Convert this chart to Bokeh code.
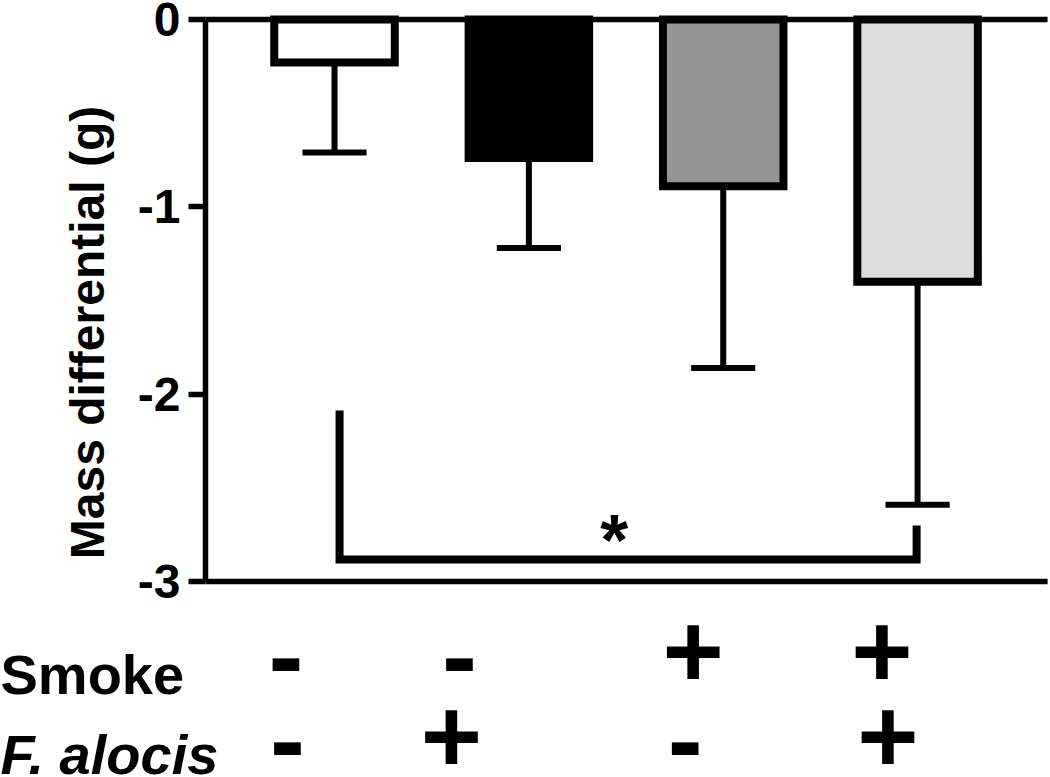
import math
from bokeh.plotting import figure
from bokeh.models import Range1d, FixedTicker, LinearAxis, ColumnDataSource, Grid
from bokeh.core.properties import value
from bokeh.embed import file_html
from bokeh.resources import INLINE

# ---- data ----
groups = [1, 2, 3, 4]
means = [-0.23, -0.74, -0.89, -1.40]
errors = [0.48, 0.48, 0.97, 1.19]
fills = ["#ffffff", "#000000", "#949494", "#dcdcdc"]
smoke = ["-", "-", "+", "+"]
falocis = ["-", "+", "-", "+"]
y_ticks = [-3, -2, -1, 0]
y_label = "Mass differential (g)"
row_labels = ["Smoke", "F. alocis"]
sig_text = "*"
sig_pair = [1, 4]

# ---- layout constants ----
X0, X1 = -0.7187, 4.684
Y0, Y1 = -4.0463, 0.1014
SPINE_X = 0.3362
LINE_END = 4.669
BAR_W = 0.62
CAP_W = 0.33
smoke_off = [-0.25, -0.357, -0.155, -0.183]
falo_off = [-0.242, -0.398, -0.196, -0.152]
ROW1_Y, ROW2_Y = -3.3684, -3.8195
MINUS_DY = -0.025
FONT = value("Liberation Sans")

p = figure(width=1050, height=777, x_range=Range1d(X0, X1), y_range=Range1d(Y0, Y1),
           output_backend="svg", toolbar_location=None, x_axis_location=None,
           y_axis_location=None,
           min_border_left=0, min_border_right=0, min_border_top=0, min_border_bottom=0)
p.outline_line_color = None
for g in list(p.center):
    if isinstance(g, Grid):
        g.visible = False
p.background_fill_color = "white"

ax = LinearAxis(fixed_location=SPINE_X)
ax.bounds = (min(y_ticks), max(y_ticks))
ax.ticker = FixedTicker(ticks=y_ticks)
ax.major_label_overrides = {t: str(t) for t in y_ticks}
ax.axis_line_width = 5.5
ax.major_tick_line_width = 5.5
ax.major_tick_out = 17
ax.major_tick_in = 0
ax.minor_tick_out = 0
ax.minor_tick_in = 0
ax.major_label_text_font = "Liberation Sans"
ax.major_label_text_font_style = "bold"
ax.major_label_text_font_size = "48px"
ax.major_label_text_color = "black"
ax.major_label_standoff = 8
ax.axis_line_color = "black"
ax.major_tick_line_color = "black"
p.add_layout(ax, "left")

# horizontal lines at 0 and -3
p.segment(x0=[SPINE_X, SPINE_X], y0=[max(y_ticks), min(y_ticks)], x1=[LINE_END, LINE_END],
          y1=[max(y_ticks), min(y_ticks)], line_color="black", line_width=5.5)

# error bars (downward only)
lows = [m - e for m, e in zip(means, errors)]
p.segment(x0=groups, y0=means, x1=groups, y1=lows, line_color="black", line_width=6)
p.segment(x0=[g - CAP_W / 2 for g in groups], y0=lows, x1=[g + CAP_W / 2 for g in groups],
          y1=lows, line_color="black", line_width=6)

# bars
src = ColumnDataSource(dict(x=groups, top=[0] * 4, bottom=means, fill=fills))
p.vbar(x="x", top="top", bottom="bottom", width=BAR_W, fill_color="fill",
       line_color="black", line_width=8, line_join="miter", source=src)

# significance bracket
bx0, bx1 = sig_pair[0] + 0.026, sig_pair[1] - 0.005
p.line(x=[bx0, bx0, bx1, bx1], y=[-2.087, -2.883, -2.883, -2.701], line_color="black",
       line_width=8, line_join="miter", line_cap="butt")
p.text(x=[2.44], y=[-2.7759], text=[sig_text], text_font=FONT, text_font_style="bold",
       text_font_size="72px", text_align="center", text_baseline="alphabetic")

# +/- symbols
def sym_y(row_y, signs):
    return [row_y + (MINUS_DY if s == "-" else 0) for s in signs]

p.text(x=[g + o for g, o in zip(groups, smoke_off)], y=sym_y(ROW1_Y, smoke), text=smoke,
       text_font=FONT, text_font_style="bold", text_font_size="105px",
       text_align="center", text_baseline="alphabetic")
p.text(x=[g + o for g, o in zip(groups, falo_off)], y=sym_y(ROW2_Y, falocis), text=falocis,
       text_font=FONT, text_font_style="bold", text_font_size="105px",
       text_align="center", text_baseline="alphabetic")

# row labels
p.text(x=[X0], y=[-3.497], text=[row_labels[0]], text_font=FONT, text_font_style="bold",
       text_font_size="56px", text_align="left", text_baseline="alphabetic")
p.text(x=[X0], y=[-3.9236], text=[row_labels[1]], text_font=FONT,
       text_font_style="bold italic", text_font_size="56px", text_align="left",
       text_baseline="alphabetic")

# y label
p.text(x=[-0.2710], y=[-1.6709], text=[y_label], angle=math.pi / 2, text_font=FONT,
       text_font_style="bold", text_font_size="48px", text_align="center",
       text_baseline="alphabetic")

open("out.html", "w").write(file_html(p, INLINE))
